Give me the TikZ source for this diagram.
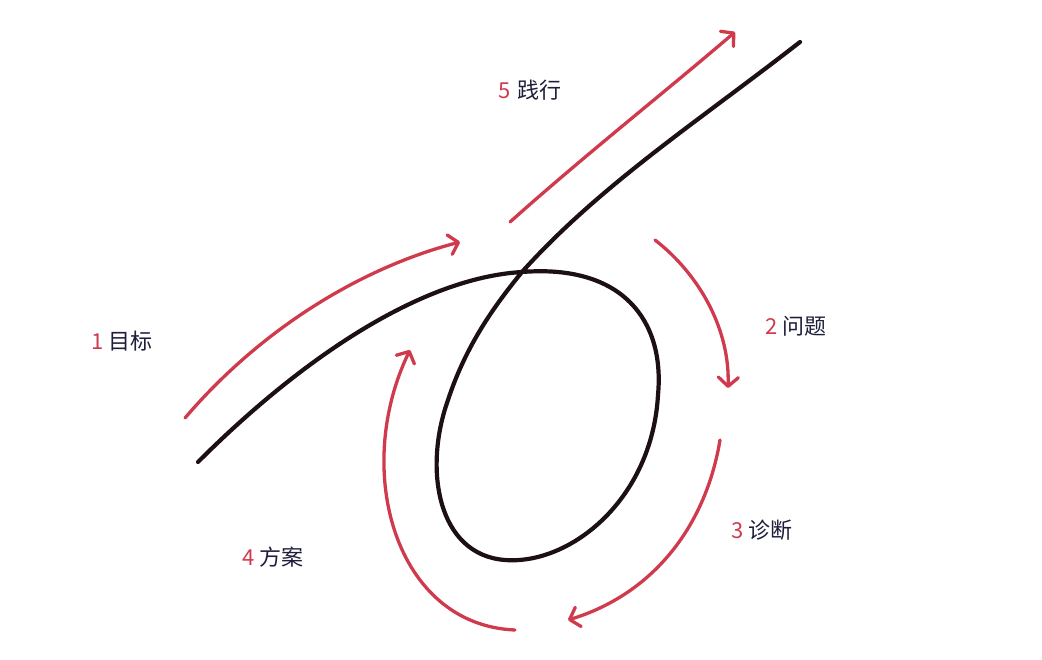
\documentclass[tikz,border=0pt]{standalone}
\usepackage{fontspec}
\setmainfont{Noto Sans CJK SC}
\usetikzlibrary{arrows.meta}
\definecolor{arrred}{HTML}{CF3B4D}
\definecolor{curveblack}{HTML}{1C1014}
\definecolor{txtdark}{HTML}{1E1E3A}
\tikzset{
  loopline/.style={draw=curveblack, line width=4.2pt, line cap=round},
  redarrow/.style={draw=arrred, line width=3.3pt, line cap=round,
    -{Straight Barb[length=9pt,width=20pt,line width=3.3pt,round]}},
  lbl/.style={font=\fontsize{22}{26}\selectfont, text=txtdark, inner sep=0pt}
}
\begin{document}
\begin{tikzpicture}[x=1pt,y=-1pt]
\useasboundingbox (0,0) rectangle (1042,660);
% black curve
\coordinate (s) at (198,462);
\coordinate (c) at (522,272);
\coordinate (r) at (658,395);
\coordinate (b) at (505,560);
\coordinate (l) at (448,400);
\coordinate (e) at (800,42);
\draw[loopline] (s) .. controls (300,360) and (420,278) .. (c)
  .. controls (622,264) and (665,320) .. (r)
  .. controls (652,500) and (570,565) .. (b)
  .. controls (438,555) and (423,470) .. (l)
  .. controls (466,345) and (495,305) .. (c)
  .. controls (600,185) and (700,120) .. (e);
% red arrows
\coordinate (a1s) at (185,418);
\coordinate (a1e) at (460,242);
\draw[redarrow] (a1s) .. controls (260,330) and (360,268) .. (a1e);
\coordinate (a5s) at (510,222);
\coordinate (a5e) at (735,32);
\draw[redarrow] (a5s) .. controls (585,155) and (665,92) .. (a5e);
\coordinate (a2s) at (655,240);
\coordinate (a2e) at (728,388);
\draw[redarrow] (a2s) .. controls (700,275) and (730,330) .. (a2e);
\coordinate (a3s) at (720,440);
\coordinate (a3e) at (568,620);
\draw[redarrow] (a3s) .. controls (705,530) and (650,595) .. (a3e);
\coordinate (a4s) at (515,630);
\coordinate (a4e) at (410,350);
\draw[redarrow] (a4s) .. controls (395,625) and (352,470) .. (a4e);
% labels
\node[lbl] (t1) at (122,341) {\textcolor{arrred}{1} 目标};
\node[lbl] (t5) at (530,90) {\textcolor{arrred}{5}\hspace{0.35em}践行};
\node[lbl] (t2) at (796,326) {\textcolor{arrred}{2} 问题};
\node[lbl] (t3) at (762,530) {\textcolor{arrred}{3} 诊断};
\node[lbl] (t4) at (273,557) {\textcolor{arrred}{4} 方案};
\end{tikzpicture}
\end{document}
